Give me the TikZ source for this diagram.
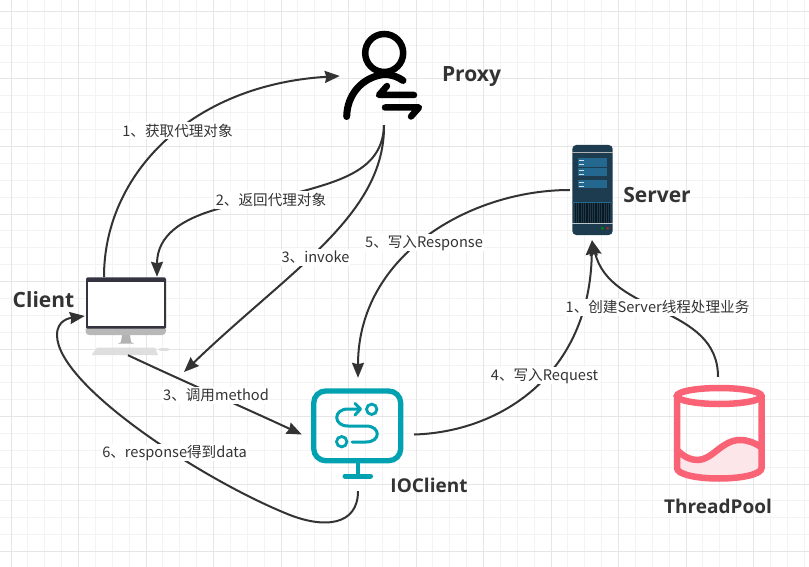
\documentclass[tikz,border=0pt]{standalone}
\usepackage{fontspec}
\setmainfont{Noto Sans CJK SC}
\newfontfamily\labelfont{Open Sans}
\usetikzlibrary{arrows.meta}
\definecolor{inkgray}{HTML}{333333}
\definecolor{gridminor}{HTML}{F3F3F3}
\definecolor{gridmajor}{HTML}{E6E6E6}
\definecolor{ioteal}{HTML}{00A2B2}
\definecolor{poolred}{HTML}{F96375}
\definecolor{poolfill}{HTML}{FDE6EA}
\definecolor{srvdark}{HTML}{1D3C50}
\definecolor{srvblue}{HTML}{24678F}
\definecolor{screendark}{HTML}{33343F}
\begin{document}
\begin{tikzpicture}[
    x=1pt, y=-1pt,
    frame/.style={inner sep=0pt},
    title/.style={font=\labelfont\fontsize{19}{23}\selectfont\bfseries, text=inkgray, inner sep=0pt},
    bigtitle/.style={title, font=\labelfont\fontsize{21}{25}\selectfont\bfseries},
    steplabel/.style={font=\fontsize{14.6}{17}\selectfont, text=inkgray, fill=white, inner xsep=1pt, inner ysep=1pt, text height=13pt, text depth=2pt},
    link/.style={-{Stealth[length=15pt,width=12pt,inset=1.5pt]}, line width=2pt, draw=inkgray}
]
\useasboundingbox (0,0) rectangle (809,567);
\fill[white] (0,0) rectangle (809,567);
% grid
\foreach \i in {0,...,47} {
    \draw[gridminor, line width=1pt] ({11+16.875*\i},0) -- ({11+16.875*\i},567);
}
\foreach \i in {0,...,33} {
    \draw[gridminor, line width=1pt] (0,{11.5+16.875*\i}) -- (809,{11.5+16.875*\i});
}
\foreach \i in {0,...,11} {
    \draw[gridmajor, line width=1pt] ({11+67.5*\i},0) -- ({11+67.5*\i},567);
}
\foreach \i in {0,...,8} {
    \draw[gridmajor, line width=1pt] (0,{11.5+67.5*\i}) -- (809,{11.5+67.5*\i});
}

% icon frames
\node[frame, minimum width=82pt, minimum height=78pt] (client) at (126,316) {};
\node[frame, minimum width=88pt, minimum height=92pt] (proxy) at (384,79) {};
\node[frame, minimum width=44pt, minimum height=95pt] (server) at (592,192.5) {};
\node[frame, minimum width=112pt, minimum height=113pt] (ioclient) at (358,434.5) {};
\node[frame, minimum width=92pt, minimum height=106pt] (threadpool) at (718,430) {};
\coordinate (invoketip) at (184,372);

% proxy icon
\draw[black, line width=6.5pt] (384.2,53) circle (19pt);
\draw[black, line width=7pt, line cap=round] (346.7,116.5) .. controls (347,95) and (362,77) .. (384,74.5) .. controls (392,74.5) and (398,77) .. (403,80.5);
\draw[black, line width=6.5pt, line cap=round, line join=round] (414,95) -- (379,95) -- (387,86);
\draw[black, line width=6.5pt, line cap=round, line join=round] (385,107.5) -- (419,107.5) -- (411,116.5);

% client icon
\fill[screendark, rounded corners=1.5pt] (86,277.3) rectangle (166,329);
\fill[white] (88,281.5) rectangle (163.5,325.5);
\fill[black!28] (85.5,328.5) -- (166,328.5) -- (166,331) .. controls (166,334) and (164,335) .. (162,335) -- (89.5,335) .. controls (87.5,335) and (85.5,334) .. (85.5,331) -- cycle;
\fill[black!30] (122,335) -- (130,335) -- (131,342) -- (134,343.5) -- (118,343.5) -- (121,342) -- cycle;
\fill[black!13] (97,347.5) -- (155,347.5) -- (158,355) -- (91.5,355) -- cycle;
\fill[black!13] (164,349.5) ellipse (6pt and 1.5pt);

% server icon
\fill[srvdark, rounded corners=4pt] (572.3,145) rectangle (612.7,235);
\fill[black!30!white] (572.3,152) rectangle (612.7,153.5);
\foreach \y/\h/\a/\b in {158.3/8.4/160/164.3, 168.3/7.7/169.7/174.3, 180/8.3/182/186.3} {
    \fill[srvblue] (578.3,\y) rectangle (606.7,{\y+\h});
    \fill[white!80!srvblue] (579,\a) rectangle (584,{\a+1});
    \fill[white!80!srvblue] (579,\b) rectangle (584,{\b+1});
}
\fill[srvblue] (572.3,201.7) rectangle (612.7,202.7);
\fill[black!60!srvdark] (575,203.3) rectangle (610,222.5);
\foreach \i in {0,...,14} {
    \fill[srvdark] ({576+2.3*\i},203.3) rectangle ({576.8+2.3*\i},222.5);
}
\fill[white!70!srvdark] (572.3,223) rectangle (612.7,224);
\fill[green!55!black] (602.3,228.3) circle (1.5pt);
\fill[red!60!black!85!white] (607.7,228.3) circle (1.5pt);

% ioclient icon
\draw[ioteal, line width=5.3pt, rounded corners=12pt] (313.7,391) rectangle (400.7,460.7);
\draw[ioteal, line width=4pt] (357.7,463) -- (357.7,476);
\draw[ioteal, line width=5pt, line cap=round] (345,476) -- (370.5,476);
\draw[ioteal, line width=2.8pt] (371.7,409.3) circle (5.2pt);
\draw[ioteal, line width=2.8pt] (341.7,441.7) circle (5.2pt);
\draw[ioteal, line width=3pt, line cap=round] (360,409) -- (348,409) .. controls (333,409) and (333,426) .. (348,426) -- (366,426) .. controls (381,426) and (381,442) .. (366,442) -- (352,442);
\draw[ioteal, line width=3pt, line cap=round, line join=round] (355,403.5) -- (360.5,409) -- (355,415);

% threadpool icon
\fill[poolfill] (677,450) .. controls (685,458) and (692,460) .. (698,460) .. controls (712,460) and (722,440) .. (740,440) .. controls (748,440) and (755,443) .. (761,447) -- (761,470) -- (677,470) -- cycle;
\fill[poolfill] (677,466) rectangle (761,476);
\draw[poolred, line width=6.5pt] (677,395) -- (677,468) .. controls (677,474) and (695,478.5) .. (719,478.5) .. controls (743,478.5) and (761.5,474) .. (761.5,468) -- (761.5,395);
\draw[poolred, line width=6.5pt] (719.2,396) ellipse (42.3pt and 8pt);
\draw[poolred, line width=6.5pt] (677,450) .. controls (685,458) and (692,460) .. (698,460) .. controls (712,460) and (722,440) .. (740,440) .. controls (748,440) and (755,443) .. (761,447);

% titles
\node[bigtitle] (proxytext) at (471.5,76.5) {Proxy};
\node[bigtitle] (clienttext) at (43.5,300) {Client};
\node[bigtitle] (servertext) at (657,195) {Server};
\node[title] (iotext) at (429,485) {IOClient};
\node[title] (pooltext) at (718,506) {ThreadPool};

% connectors
\draw[link] ([xshift=-22pt]client.north) .. controls (104,175) and (190,85) .. ([yshift=3pt]proxy.west);
\draw[link] (proxy.south) .. controls (383,165) and (350,178) .. (307,190) .. controls (262,203) and (157,205) .. ([xshift=31pt]client.north);
\draw[link] (proxy.south) .. controls (385,215) and (290,270) .. (invoketip);
\draw[link] ([xshift=2pt]client.south) .. controls (185,382) and (245,408) .. (ioclient.west);
\draw[link] (ioclient.east) .. controls (500,432) and (590,375) .. (server.south);
\draw[link] ([yshift=2.5pt]server.west) .. controls (470,190) and (358,255) .. (ioclient.north);
\draw[link] (threadpool.north) .. controls (718,305) and (610,315) .. (server.south);
\draw[link] (ioclient.south) .. controls (358,525) and (325,530) .. (285,513) .. controls (200,478) and (57,385) .. (57,335) .. controls (57,320) and (70,318) .. (client.west);

% labels
\node[steplabel] (gettext) at (177.5,131) {1、获取代理对象};
\node[steplabel] (backtext) at (271,200) {2、返回代理对象};
\node[steplabel] (invoketext) at (315.5,257) {3、invoke};
\node[steplabel] (responsetext) at (424,242) {5、写入Response};
\node[steplabel] (createtext) at (657.5,307) {1、创建Server线程处理业务};
\node[steplabel] (requesttext) at (544.5,375) {4、写入Request};
\node[steplabel] (methodtext) at (216,395) {3、调用method};
\node[steplabel] (datatext) at (174.5,452) {6、response得到data};
\end{tikzpicture}
\end{document}
